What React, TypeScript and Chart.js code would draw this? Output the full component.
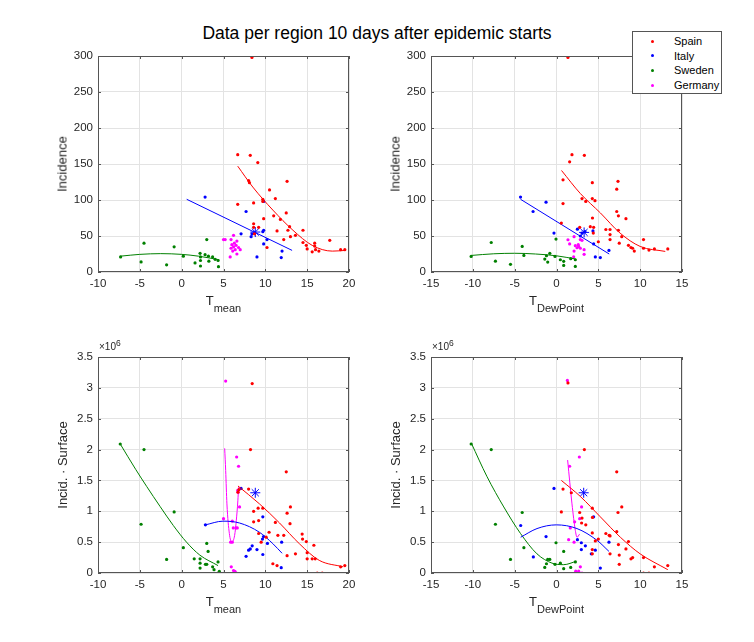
import React, { useEffect, useRef } from 'react';
import { Chart, registerables } from 'chart.js';

Chart.register(...registerables);

const FONT = '"Liberation Sans", Arial, Helvetica, sans-serif';
const TEXT = '#262626';

const SPAIN = '#ff0000';
const ITALY = '#0000ff';
const SWEDEN = '#008000';
const GERMANY = '#ff00ff';

const countries = ['Spain', 'Italy', 'Sweden', 'Germany'];
const countryColors = [SPAIN, ITALY, SWEDEN, GERMANY];

// ---- top left: T mean vs incidence
const tlSpainX = [8.4, 6.7, 8.2, 9.1, 8.0, 8.1, 10.5, 6.7, 8.6, 9.7, 9.7, 11.2, 12.6, 12.5, 9.8, 11.0, 11.8, 11.4, 8.6, 8.6, 9.2, 12.9, 12.7, 13.0, 13.6, 12.2, 8.7, 10.2, 14.5, 14.5, 14.9, 15.0, 15.6, 15.9, 15.9, 16.0, 16.4, 17.7, 19.0, 19.5];
const tlSpainY = [298, 163, 162, 152, 127, 124, 114, 94, 96, 101, 98, 102, 126, 82, 74, 78, 73, 57, 67, 62, 62, 63, 58, 49, 51, 45, 53, 34, 58, 41, 37, 32, 28, 40, 36, 31, 29, 44, 31, 31];
const tlSpainFitX = [6.7, 8.5, 10.9, 13.3, 15.6, 18.0, 19.6];
const tlSpainFitY = [147, 118, 86, 58, 37, 29, 30];
const tlItalyX = [2.8, 7.7, 9.8, 7.1, 8.3, 8.4, 8.7, 9.7, 9.8, 10.2, 9.8, 12.0, 11.9, 9.0];
const tlItalyY = [104, 84, 98, 53, 49, 53, 54, 56, 58, 45, 39, 29, 20, 21];
const tlItalyFitX = [0.6, 13.2];
const tlItalyFitY = [101, 30];
const tlItalyStar = [8.8, 55.5];
const tlSwedenX = [-7.3, -4.85, -4.5, -1.8, -0.9, 0.2, 1.6, 2.2, 2.25, 2.25, 2.25, 2.8, 3.0, 3.2, 3.25, 3.7, 4.0, 4.35, 4.4];
const tlSwedenY = [21, 14, 40, 10, 35, 22, 12.6, 26, 21, 16, 8.3, 24, 45, 22, 15, 21, 17.6, 16, 7.4];
const tlSwedenFitX = [-7.3, -5, -2.5, 0, 2, 4.5];
const tlSwedenFitY = [22, 24.5, 25.5, 24.5, 22, 17];
const tlGermanyX = [5.0, 5.2, 5.9, 6.2, 6.0, 5.9, 6.1, 6.3, 6.5, 6.6, 6.8, 7.0, 5.8, 6.6, 6.2, 6.4];
const tlGermanyY = [45, 45, 45, 51, 38, 33, 29, 40, 37, 43, 34, 31, 21, 25, 35, 31];

// ---- top right: T dew point vs incidence
const trSpainX = [1.37, 1.85, 1.57, 3.33, 0.78, 0.78, 0.58, 3.05, 3.5, 4.28, 4.28, 4.6, 4.3, 4.04, 4.44, 2.77, 4.4, 5.9, 6.4, 6.4, 6.4, 5.0, 7.2, 7.35, 7.2, 7.4, 7.4, 7.8, 7.5, 8.3, 8.6, 8.9, 9.1, 9.3, 10.4, 10.4, 11.05, 11.7, 13.3];
const trSpainY = [298, 163, 153, 162, 128, 95, 68, 102, 98, 124, 102, 99, 75, 63, 62, 62, 54, 59, 59, 52, 45, 42, 115, 126, 84, 78, 58, 49, 40, 74, 37, 34, 33, 29, 45, 33, 30.5, 32, 32];
const trSpainFitX = [0.6, 2.85, 5.25, 7.6, 10.0, 13.0];
const trSpainFitY = [141, 109, 82, 54, 35.5, 28.6];
const trItalyX = [-4.3, -1.25, -2.8, -0.3, 2.5, 3.05, 3.4, 4.36, 4.44, 2.85, 4.64, 5.24, 6.27];
const trItalyY = [104, 97, 84, 54, 59.5, 54, 56, 57, 39, 50, 21, 20, 30];
const trItalyFitX = [-4.3, 6.3];
const trItalyFitY = [101, 25];
const trItalyStar = [3.3, 55];
const trSwedenX = [-10.2, -7.8, -7.3, -5.5, -4.1, -3.9, -1.4, -1.2, -1.05, -0.8, -0.06, -0.18, 0.46, 0.86, 0.86, 1.7, 2.25, 2.25];
const trSwedenY = [21.7, 41, 15, 10.6, 35.5, 23, 18, 22.6, 13.8, 26, 45.7, 21.7, 17, 14.8, 9.2, 18.5, 17, 7.8];
const trSwedenFitX = [-10.2, -7.5, -5, -2.5, 0, 2.3];
const trSwedenFitY = [23, 25.3, 26, 25, 22.5, 18];
const trGermanyX = [1.37, 1.57, 2.1, 2.85, 3.05, 2.25, 2.45, 2.65, 2.85, 2.1, 3.3, 3.3, 2.05, 2.6];
const trGermanyY = [44.8, 39, 49, 45, 44, 36.5, 33.7, 35.5, 33, 29, 31, 24.5, 21, 38];

// ---- bottom left: T mean vs incidence * surface (x 10^6)
const blSpainX = [8.43, 8.23, 12.5, 6.73, 6.84, 8.0, 8.6, 9.14, 9.7, 9.2, 8.6, 12.6, 13.0, 12.95, 11.2, 10.45, 10.1, 11.5, 12.2, 9.2, 9.5, 12.6, 13.6, 14.4, 14.45, 14.9, 15.0, 15.0, 15.8, 15.6, 15.96, 16.2, 16.8, 10.9, 11.4, 19.0, 19.5];
const blSpainY = [3.07, 2.0, 1.64, 1.31, 1.35, 1.36, 1.0, 1.05, 1.05, 0.85, 0.83, 0.97, 1.07, 0.8, 0.82, 0.66, 0.58, 0.61, 0.61, 0.64, 0.5, 0.28, 0.31, 0.63, 0.55, 0.51, 0.33, 0.23, 0.45, 0.23, 0.23, 0, 0, 0.15, 0.12, 0.1, 0.12];
const blSpainFitX = [6.73, 9.3, 11.7, 14.06, 16.44, 19.3];
const blSpainFitY = [1.41, 1.12, 0.81, 0.475, 0.205, 0.1];
const blItalyX = [2.84, 7.1, 9.7, 8.43, 8.2, 8.0, 7.7, 9.0, 9.7, 9.78, 9.66, 10.25, 11.95, 11.9];
const blItalyY = [0.78, 1.37, 0.91, 0.44, 0.39, 0.37, 0.27, 0.38, 0.3, 0.59, 0.55, 0.48, 0.5, 0.086];
const blItalyFitX = [2.84, 4.94, 6.92, 9.3, 10.9, 12.0];
const blItalyFitY = [0.78, 0.84, 0.81, 0.66, 0.475, 0.32];
const blItalyStar = [8.8, 1.3];
const blSwedenX = [-7.34, -4.5, -4.85, -0.9, -1.8, 0.2, 1.5, 2.2, 2.2, 2.2, 3.0, 3.16, 2.84, 3.0, 3.7, 3.87, 4.35, 4.5];
const blSwedenY = [2.09, 2.0, 0.79, 0.99, 0.22, 0.41, 0.23, 0.23, 0.16, 0.08, 0.48, 0.35, 0.14, 0.14, 0.1, 0.054, 0.18, 0.027];
const blSwedenFitX = [-7.34, -5.5, -4.17, -2.59, -1.0, 0.58, 2.17, 4.35];
const blSwedenFitY = [2.09, 1.68, 1.4, 1.08, 0.77, 0.5, 0.29, 0.12];
const blGermanyX = [5.26, 6.57, 6.8, 6.92, 6.7, 6.75, 5.0, 6.05, 6.17, 6.5, 6.65, 5.85, 6.05, 5.93, 6.2, 6.37, 6.53];
const blGermanyY = [3.11, 1.88, 1.73, 1.07, 1.34, 1.31, 0.88, 0.84, 0.73, 0.73, 0.73, 0.5, 0.5, 0.1, 0.04, 0.027, 0];
const blGermanyFitX = [5.14, 5.26, 5.41, 5.7, 6.0, 6.33, 6.53, 6.72, 6.8];
const blGermanyFitY = [2.02, 1.66, 1.12, 0.64, 0.5, 0.61, 0.85, 1.18, 1.39];

// ---- bottom right: T dew point vs incidence * surface (x 10^6)
const brSpainX = [1.37, 3.33, 7.2, 0.78, 1.77, 0.58, 2.77, 3.05, 3.0, 3.5, 4.28, 4.3, 4.28, 4.64, 5.0, 4.28, 4.28, 5.9, 6.3, 6.4, 6.4, 7.2, 7.35, 7.8, 7.4, 7.5, 7.5, 8.3, 8.6, 8.9, 9.1, 10.4, 10.4, 11.05, 11.7, 13.3];
const brSpainY = [3.08, 2.0, 1.64, 1.36, 1.3, 0.99, 0.98, 0.89, 0.81, 0.78, 1.05, 0.9, 0.65, 0.52, 0.55, 0.38, 0.31, 0.64, 0.61, 0.6, 0.31, 0.67, 0.98, 1.07, 0.46, 0.29, 0.14, 0.39, 0.51, 0.23, 0.25, 0.25, 0, 0, 0.1, 0.12];
const brSpainFitX = [0.58, 2.85, 5.24, 7.63, 10.0, 13.3];
const brSpainFitY = [1.5, 1.24, 0.91, 0.58, 0.31, 0.054];
const brItalyX = [-4.28, -0.3, -1.25, -2.77, 4.44, 2.5, 2.97, 2.97, 3.45, 4.16, 4.64, 6.27, 5.24];
const brItalyY = [0.77, 1.37, 0.59, 0.26, 0.91, 0.54, 0.49, 0.38, 0.44, 0.31, 0.37, 0.5, 0.08];
const brItalyFitX = [-4.28, -2.33, -0.02, 2.45, 4.84, 6.27];
const brItalyFitY = [0.58, 0.72, 0.78, 0.72, 0.53, 0.35];
const brItalyStar = [3.25, 1.3];
const brSwedenX = [-10.2, -7.8, -7.3, -5.5, -4.1, -3.9, -1.4, -1.2, -1.05, -0.8, -0.06, -0.18, 0.46, 0.86, 0.86, 1.7, 2.25];
const brSwedenY = [2.09, 2.0, 0.79, 0.22, 0.98, 0.41, 0.09, 0.15, 0.22, 0.22, 0.49, 0.14, 0.16, 0.35, 0.07, 0.09, 0.18];
const brSwedenFitX = [-10.2, -8.3, -6.3, -4.3, -2.33, -0.54, 0.86, 2.37];
const brSwedenFitY = [2.11, 1.56, 1.07, 0.64, 0.31, 0.16, 0.135, 0.19];
const brGermanyX = [1.3, 1.57, 2.73, 3.0, 2.77, 2.17, 1.45, 2.1, 2.85, 2.3, 2.65, 3.05, 1.65];
const brGermanyY = [3.12, 1.73, 1.88, 1.07, 0.88, 0.83, 0.54, 0.5, 0.1, 0.03, 0.03, 0, 0.73];
const brGermanyFitX = [1.33, 1.85, 2.25, 2.45, 2.76];
const brGermanyFitY = [1.83, 1.12, 0.69, 0.58, 0.63];

const W = 319;
const H = 250;
const AXIS_W = 58;
const AXIS_H = 24;
const PAD_T = 10;
const PAD_R = 10;

const pts = (xs: number[], ys: number[]) => xs.map((x, i) => ({ x, y: ys[i] }));

function dots(xs: number[], ys: number[], color: string) {
  return {
    data: pts(xs, ys),
    showLine: false,
    pointRadius: 1.6,
    pointBorderWidth: 0,
    pointBackgroundColor: color,
    pointBorderColor: color,
  };
}

function fit(xs: number[], ys: number[], color: string) {
  return {
    data: pts(xs, ys),
    showLine: true,
    pointRadius: 0,
    borderColor: color,
    borderWidth: 1,
    cubicInterpolationMode: 'monotone',
    fill: false,
  };
}

function star(p: number[]) {
  return {
    data: [{ x: p[0], y: p[1] }],
    showLine: false,
    pointStyle: 'star',
    pointRadius: 5,
    pointBorderWidth: 1,
    pointBorderColor: ITALY,
    pointBackgroundColor: 'rgba(0,0,0,0)',
  };
}

// box round the plot area, with inward ticks like the original
const boxPlugin = {
  id: 'box',
  afterDraw(chart: any) {
    const { ctx, chartArea: a, scales } = chart;
    ctx.save();
    ctx.strokeStyle = '#555555';
    ctx.lineWidth = 1;
    ctx.beginPath();
    scales.x.ticks.forEach((t: any) => {
      const px = Math.round(scales.x.getPixelForValue(t.value)) + 0.5;
      ctx.moveTo(px, a.bottom);
      ctx.lineTo(px, a.bottom - 3);
      ctx.moveTo(px, a.top);
      ctx.lineTo(px, a.top + 3);
    });
    scales.y.ticks.forEach((t: any) => {
      const py = Math.round(scales.y.getPixelForValue(t.value)) + 0.5;
      ctx.moveTo(a.left, py);
      ctx.lineTo(a.left + 3, py);
      ctx.moveTo(a.right, py);
      ctx.lineTo(a.right - 3, py);
    });
    ctx.stroke();
    ctx.strokeRect(Math.round(a.left) + 0.5, Math.round(a.top) + 0.5, Math.round(a.right - a.left) - 1, Math.round(a.bottom - a.top) - 1);
    ctx.restore();
  },
};

type PanelProps = {
  left: number;
  top: number;
  xMin: number;
  xMax: number;
  yMax: number;
  yStep: number;
  datasets: any[];
  yTitle: string;
  xSub: string;
  exponent?: boolean;
};

function Panel({ left, top, xMin, xMax, yMax, yStep, datasets, yTitle, xSub, exponent }: PanelProps) {
  const ref = useRef<HTMLCanvasElement>(null);

  useEffect(() => {
    const tickFont = { family: FONT, size: 11.5 };
    const chart = new Chart(ref.current as HTMLCanvasElement, {
      type: 'scatter',
      data: { datasets },
      options: {
        animation: false,
        responsive: false,
        maintainAspectRatio: false,
        events: [],
        layout: { padding: { top: PAD_T, right: PAD_R, left: 0, bottom: 0 } },
        plugins: { legend: { display: false }, tooltip: { enabled: false } },
        scales: {
          x: {
            type: 'linear',
            min: xMin,
            max: xMax,
            ticks: { stepSize: 5, font: tickFont, color: TEXT, padding: 5, maxRotation: 0, callback: (v: any) => String(v) },
            grid: { color: '#e3e3e3', drawTicks: false },
            border: { display: false },
            afterFit: (s: any) => {
              s.height = AXIS_H;
              s.paddingLeft = 0;
              s.paddingRight = 0;
            },
          },
          y: {
            type: 'linear',
            min: 0,
            max: yMax,
            ticks: { stepSize: yStep, font: tickFont, color: TEXT, padding: 5, callback: (v: any) => String(v) },
            grid: { color: '#e3e3e3', drawTicks: false },
            border: { display: false },
            afterFit: (s: any) => {
              s.width = AXIS_W;
              s.paddingTop = 0;
              s.paddingBottom = 0;
            },
          },
        },
      },
      plugins: [boxPlugin],
    } as any);
    return () => chart.destroy();
  }, []);

  const plotLeft = left + AXIS_W;
  const plotRight = left + W - PAD_R;
  const plotTop = top + PAD_T;
  const plotBottom = top + H - AXIS_H;

  return (
    <>
      <canvas ref={ref} width={W} height={H} style={{ position: 'absolute', left, top, width: W, height: H }} />
      <div
        style={{
          position: 'absolute',
          left: plotLeft - 36,
          top: (plotTop + plotBottom) / 2,
          transform: 'translate(-50%, -50%) rotate(-90deg)',
          whiteSpace: 'nowrap',
          fontSize: 13,
          color: TEXT,
        }}
      >
        {yTitle}
      </div>
      <div
        style={{
          position: 'absolute',
          left: (plotLeft + plotRight) / 2,
          top: plotBottom + 22,
          transform: 'translateX(-50%)',
          whiteSpace: 'nowrap',
          fontSize: 13,
          lineHeight: '13px',
          color: TEXT,
        }}
      >
        T<span style={{ position: 'relative', top: 7, fontSize: 11 }}>{xSub}</span>
      </div>
      {exponent && (
        <div
          style={{
            position: 'absolute',
            left: plotLeft + 1,
            top: plotTop - 15,
            whiteSpace: 'nowrap',
            fontSize: 10,
            lineHeight: '10px',
            color: TEXT,
          }}
        >
          ×10<span style={{ position: 'relative', top: -4, fontSize: 8.5 }}>6</span>
        </div>
      )}
    </>
  );
}

function Legend() {
  return (
    <div
      style={{
        position: 'absolute',
        left: 632,
        top: 31,
        width: 88,
        height: 61,
        border: '1px solid #555555',
        background: '#ffffff',
        zIndex: 2,
      }}
    >
      {countries.map((name, i) => (
        <div
          key={name}
          style={{ position: 'absolute', left: 0, top: 2 + i * 14.7, height: 14, width: 88, fontSize: 11, lineHeight: '14px', color: '#000' }}
        >
          <span
            style={{
              position: 'absolute',
              left: 18,
              top: 5.5,
              width: 3,
              height: 3,
              borderRadius: '50%',
              background: countryColors[i],
            }}
          />
          <span style={{ position: 'absolute', left: 41 }}>{name}</span>
        </div>
      ))}
    </div>
  );
}

export default function App() {
  const tl = [
    dots(tlSpainX, tlSpainY, SPAIN),
    fit(tlSpainFitX, tlSpainFitY, SPAIN),
    dots(tlItalyX, tlItalyY, ITALY),
    fit(tlItalyFitX, tlItalyFitY, ITALY),
    star(tlItalyStar),
    dots(tlSwedenX, tlSwedenY, SWEDEN),
    fit(tlSwedenFitX, tlSwedenFitY, SWEDEN),
    dots(tlGermanyX, tlGermanyY, GERMANY),
  ];
  const tr = [
    dots(trSpainX, trSpainY, SPAIN),
    fit(trSpainFitX, trSpainFitY, SPAIN),
    dots(trItalyX, trItalyY, ITALY),
    fit(trItalyFitX, trItalyFitY, ITALY),
    star(trItalyStar),
    dots(trSwedenX, trSwedenY, SWEDEN),
    fit(trSwedenFitX, trSwedenFitY, SWEDEN),
    dots(trGermanyX, trGermanyY, GERMANY),
  ];
  const bl = [
    dots(blSpainX, blSpainY, SPAIN),
    fit(blSpainFitX, blSpainFitY, SPAIN),
    dots(blItalyX, blItalyY, ITALY),
    fit(blItalyFitX, blItalyFitY, ITALY),
    star(blItalyStar),
    dots(blSwedenX, blSwedenY, SWEDEN),
    fit(blSwedenFitX, blSwedenFitY, SWEDEN),
    dots(blGermanyX, blGermanyY, GERMANY),
    fit(blGermanyFitX, blGermanyFitY, GERMANY),
  ];
  const br = [
    dots(brSpainX, brSpainY, SPAIN),
    fit(brSpainFitX, brSpainFitY, SPAIN),
    dots(brItalyX, brItalyY, ITALY),
    fit(brItalyFitX, brItalyFitY, ITALY),
    star(brItalyStar),
    dots(brSwedenX, brSwedenY, SWEDEN),
    fit(brSwedenFitX, brSwedenFitY, SWEDEN),
    dots(brGermanyX, brGermanyY, GERMANY),
    fit(brGermanyFitX, brGermanyFitY, GERMANY),
  ];

  return (
    <div
      style={{
        position: 'absolute',
        left: 0,
        top: 0,
        width: 754,
        height: 642,
        background: '#ffffff',
        fontFamily: FONT,
        overflow: 'hidden',
      }}
    >
      <div style={{ position: 'absolute', left: 0, top: 23, width: 754, textAlign: 'center', fontSize: 17.5, lineHeight: '20px', color: '#000' }}>
        Data per region 10 days after epidemic starts
      </div>
      <Panel left={40} top={46} xMin={-10} xMax={20} yMax={300} yStep={50} datasets={tl} yTitle="Incidence" xSub="mean" />
      <Panel left={373} top={46} xMin={-15} xMax={15} yMax={300} yStep={50} datasets={tr} yTitle="Incidence" xSub="DewPoint" />
      <Panel left={40} top={347} xMin={-10} xMax={20} yMax={3.5} yStep={0.5} datasets={bl} yTitle="Incid. · Surface" xSub="mean" exponent />
      <Panel left={373} top={347} xMin={-15} xMax={15} yMax={3.5} yStep={0.5} datasets={br} yTitle="Incid. · Surface" xSub="DewPoint" exponent />
      <Legend />
    </div>
  );
}
